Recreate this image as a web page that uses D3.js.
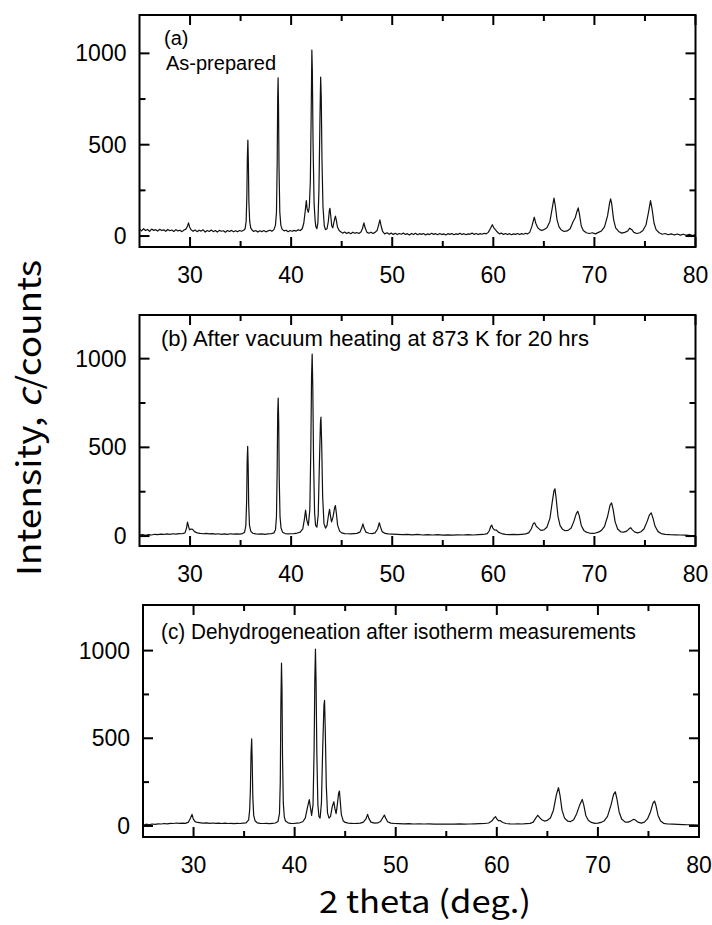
<!DOCTYPE html>
<html lang="en">
<head>
    <meta charset="UTF-8">
    <title>XRD patterns</title>
    <script src="https://d3js.org/d3.v7.min.js"></script>
    <style>
        body { margin: 0; background: #fff; }
        svg { display: block; }
    </style>
</head>
<body>
    <div id="chart"></div>

    <script>

        // tick values -----------------------------------------------------
        const xTicks = [30, 40, 50, 60, 70, 80];
        const xMinor = [35, 45, 55, 65, 75];
        const yTicks = [0, 500, 1000];
        const yMinor = [250, 750];

        const labelsA = ["(a)", "As-prepared"];
        const labelB = "(b) After vacuum heating at 873 K for 20 hrs";
        const labelC = "(c) Dehydrogeneation after isotherm measurements";

        // patterns: [2 theta, counts] --------------------------------------
        const patternA = [
            [25.0,38],[25.2,28],[25.4,40],[25.6,30],[25.8,36],[26.0,26],[26.2,38],[26.4,31],[26.6,35],[26.8,27],
            [27.0,37],[27.2,30],[27.4,34],[27.6,26],[27.8,36],[28.0,29],[28.2,33],[28.4,25],[28.6,35],[28.8,28],
            [29.0,32],[29.2,24],[29.4,33],[29.6,38],[29.75,55],[29.85,72],[29.95,50],[30.1,34],[30.3,26],[30.5,33],
            [30.7,24],[30.9,32],[31.1,27],[31.3,34],[31.5,22],[31.7,30],[31.9,25],[32.1,33],[32.3,24],[32.5,30],
            [32.7,22],[32.9,31],[33.1,26],[33.3,29],[33.5,21],[33.7,30],[33.9,25],[34.1,31],[34.3,23],[34.5,29],
            [34.7,24],[34.9,30],[35.1,26],[35.3,32],[35.45,40],[35.55,80],[35.62,220],[35.67,430],[35.72,525],[35.77,400],
            [35.82,190],[35.9,80],[36.0,45],[36.15,32],[36.3,25],[36.5,30],[36.7,22],[36.9,29],[37.1,24],[37.3,30],
            [37.5,23],[37.7,28],[37.9,32],[38.1,26],[38.3,35],[38.45,60],[38.55,130],[38.62,400],[38.67,760],[38.71,866],
            [38.75,720],[38.8,380],[38.88,130],[38.98,60],[39.1,38],[39.3,28],[39.5,32],[39.7,24],[39.9,30],[40.1,26],
            [40.3,31],[40.5,27],[40.7,34],[40.9,30],[41.1,40],[41.25,70],[41.4,140],[41.5,194],[41.58,150],[41.7,130],
            [41.8,160],[41.9,300],[41.98,650],[42.05,1018],[42.1,900],[42.17,500],[42.27,180],[42.38,80],[42.45,50],[42.55,40],
            [42.65,75],[42.75,250],[42.85,640],[42.92,870],[42.98,760],[43.05,420],[43.15,160],[43.28,55],[43.4,35],[43.55,40],
            [43.68,80],[43.78,140],[43.84,152],[43.92,110],[44.02,55],[44.12,45],[44.25,80],[44.38,109],[44.46,90],[44.58,50],
            [44.75,30],[44.9,24],[45.1,16],[45.3,22],[45.5,14],[45.7,20],[45.9,13],[46.1,21],[46.3,15],[46.5,19],
            [46.7,14],[46.9,22],[47.05,40],[47.2,72],[47.32,45],[47.5,20],[47.7,15],[47.9,21],[48.1,14],[48.3,20],
            [48.5,30],[48.65,60],[48.78,89],[48.9,55],[49.05,25],[49.25,12],[49.5,18],[49.7,10],[49.9,16],[50.1,9],
            [50.3,15],[50.5,8],[50.7,14],[50.9,10],[51.1,16],[51.3,9],[51.5,13],[51.7,6],[51.9,14],[52.1,8],
            [52.3,15],[52.5,7],[52.7,13],[52.9,9],[53.1,14],[53.3,6],[53.5,12],[53.7,8],[53.9,15],[54.1,9],
            [54.3,13],[54.5,7],[54.7,14],[54.9,8],[55.1,12],[55.3,6],[55.5,13],[55.7,9],[55.9,14],[56.1,7],
            [56.3,12],[56.5,9],[56.7,15],[56.9,8],[57.1,13],[57.3,7],[57.5,12],[57.7,10],[57.9,16],[58.1,9],
            [58.3,14],[58.5,8],[58.7,13],[58.9,10],[59.1,15],[59.3,12],[59.5,20],[59.7,40],[59.9,62],[60.05,45],
            [60.2,35],[60.4,22],[60.6,12],[60.8,16],[61.0,9],[61.2,14],[61.4,8],[61.6,13],[61.8,7],[62.0,12],
            [62.2,9],[62.4,14],[62.6,8],[62.8,13],[63.0,10],[63.2,15],[63.4,12],[63.6,20],[63.8,50],[64.05,103],
            [64.2,70],[64.4,45],[64.6,35],[64.8,30],[65.0,35],[65.3,45],[65.6,80],[65.85,160],[66.0,208],[66.12,170],
            [66.3,90],[66.5,50],[66.7,35],[67.0,25],[67.3,28],[67.6,40],[67.9,80],[68.1,100],[68.25,130],[68.4,154],
            [68.52,120],[68.7,55],[68.9,30],[69.2,18],[69.5,14],[69.8,18],[70.1,12],[70.4,20],[70.7,28],[71.0,50],
            [71.3,110],[71.5,180],[71.6,203],[71.7,180],[71.9,90],[72.1,45],[72.4,25],[72.7,16],[73.0,20],[73.3,28],
            [73.5,43],[73.7,35],[73.9,20],[74.2,14],[74.5,18],[74.8,30],[75.1,60],[75.35,130],[75.55,194],[75.7,150],
            [75.9,70],[76.1,35],[76.4,18],[76.7,10],[77.0,14],[77.3,7],[77.6,12],[77.9,6],[78.2,11],[78.5,5],
            [78.8,10],[79.1,4],[79.4,9],[79.7,3],[80.0,8]
        ];

        const patternB = [
            [25.0,5],[25.3,9],[25.6,4],[25.9,8],[26.2,6],[26.5,10],[26.8,8],[27.1,11],[27.4,9],[27.7,12],
            [28.0,10],[28.3,13],[28.6,11],[28.9,14],[29.2,13],[29.5,18],[29.65,45],[29.75,79],[29.85,55],[29.95,35],
            [30.1,40],[30.25,38],[30.45,25],[30.7,18],[31.0,15],[31.3,13],[31.6,15],[31.9,12],[32.2,14],[32.5,11],
            [32.8,13],[33.1,10],[33.4,12],[33.7,10],[34.0,13],[34.3,11],[34.6,12],[34.9,11],[35.2,14],[35.4,22],
            [35.52,60],[35.6,200],[35.65,420],[35.7,506],[35.75,400],[35.8,180],[35.88,60],[36.0,28],[36.2,16],[36.5,12],
            [36.8,11],[37.1,12],[37.4,10],[37.7,12],[38.0,13],[38.3,18],[38.45,35],[38.55,110],[38.62,380],[38.67,690],
            [38.72,777],[38.77,640],[38.82,330],[38.9,110],[39.0,45],[39.15,22],[39.4,14],[39.7,12],[40.0,13],[40.3,14],
            [40.6,17],[40.9,22],[41.15,40],[41.3,90],[41.43,146],[41.55,90],[41.7,60],[41.85,150],[41.95,500],[42.02,900],
            [42.08,1026],[42.14,850],[42.22,420],[42.32,130],[42.42,60],[42.55,50],[42.68,120],[42.8,420],[42.9,640],[42.95,670],
            [43.02,520],[43.12,220],[43.25,70],[43.4,45],[43.55,60],[43.7,120],[43.8,150],[43.9,110],[44.0,80],[44.15,110],
            [44.3,160],[44.38,172],[44.47,130],[44.6,60],[44.8,28],[45.0,18],[45.3,14],[45.6,13],[45.9,12],[46.2,14],
            [46.5,15],[46.8,22],[46.98,45],[47.1,69],[47.22,45],[47.4,22],[47.7,16],[48.0,14],[48.3,18],[48.55,40],
            [48.72,75],[48.85,50],[49.0,25],[49.3,15],[49.6,12],[50.0,11],[50.5,10],[51.0,8],[51.5,9],[52.0,7],
            [52.5,9],[53.0,6],[53.5,8],[54.0,6],[54.5,8],[55.0,5],[55.5,7],[56.0,5],[56.5,7],[57.0,6],
            [57.5,8],[58.0,6],[58.5,8],[59.0,9],[59.4,14],[59.6,30],[59.75,55],[59.84,62],[59.95,45],[60.1,35],
            [60.3,34],[60.5,22],[60.8,14],[61.2,10],[61.6,8],[62.0,9],[62.4,8],[62.8,10],[63.2,12],[63.5,18],
            [63.75,40],[63.95,70],[64.08,75],[64.25,55],[64.45,45],[64.7,32],[65.0,35],[65.3,50],[65.6,100],[65.85,200],
            [66.0,255],[66.1,266],[66.2,220],[66.4,110],[66.6,60],[66.85,38],[67.1,30],[67.4,32],[67.7,45],[67.95,80],
            [68.2,125],[68.35,140],[68.5,115],[68.7,60],[68.95,32],[69.2,22],[69.5,17],[69.8,15],[70.1,17],[70.4,22],
            [70.7,32],[71.0,55],[71.3,110],[71.55,175],[71.7,187],[71.85,150],[72.05,80],[72.3,40],[72.6,24],[72.9,22],
            [73.2,28],[73.45,42],[73.6,47],[73.75,35],[74.0,22],[74.3,18],[74.6,24],[74.9,40],[75.2,80],[75.45,120],
            [75.62,131],[75.8,100],[76.0,55],[76.3,25],[76.6,14],[77.0,10],[77.5,8],[78.0,7],[78.5,6],[79.0,5],
            [79.5,3],[80.0,2]
        ];

        const patternC = [
            [25.0,4],[25.3,10],[25.6,6],[25.9,11],[26.2,9],[26.5,12],[26.8,11],[27.1,14],[27.4,12],[27.7,15],
            [28.0,14],[28.3,17],[28.6,15],[28.9,16],[29.2,15],[29.5,22],[29.7,45],[29.85,66],[29.97,40],[30.15,25],
            [30.4,20],[30.7,18],[31.0,16],[31.3,18],[31.6,15],[31.9,17],[32.2,15],[32.5,16],[32.8,14],[33.1,16],
            [33.4,14],[33.7,15],[34.0,13],[34.3,15],[34.6,14],[34.9,16],[35.2,18],[35.45,35],[35.55,90],[35.62,200],
            [35.69,420],[35.75,496],[35.8,380],[35.86,170],[35.95,60],[36.08,30],[36.3,18],[36.6,15],[36.9,14],[37.2,15],
            [37.5,13],[37.8,15],[38.1,17],[38.35,25],[38.5,70],[38.58,250],[38.64,700],[38.7,928],[38.75,780],[38.8,400],
            [38.88,130],[38.98,50],[39.1,28],[39.35,18],[39.6,15],[39.9,14],[40.2,16],[40.5,18],[40.8,24],[41.05,45],
            [41.25,100],[41.45,150],[41.55,110],[41.68,60],[41.82,120],[41.93,450],[42.0,850],[42.06,1008],[42.12,820],[42.2,400],
            [42.3,120],[42.4,55],[42.52,45],[42.65,130],[42.78,450],[42.9,690],[42.96,716],[43.03,550],[43.13,230],[43.25,75],
            [43.4,45],[43.55,55],[43.72,110],[43.88,138],[43.98,100],[44.1,70],[44.22,120],[44.35,185],[44.43,199],[44.5,150],
            [44.62,65],[44.8,30],[45.0,20],[45.3,16],[45.6,15],[45.9,14],[46.2,15],[46.5,16],[46.8,22],[47.05,40],
            [47.22,66],[47.35,42],[47.55,22],[47.9,16],[48.2,17],[48.5,25],[48.7,45],[48.88,62],[49.0,45],[49.2,24],
            [49.5,16],[49.9,14],[50.3,13],[50.8,12],[51.3,13],[51.8,11],[52.3,12],[52.8,11],[53.3,12],[53.8,10],
            [54.3,11],[54.8,10],[55.3,11],[55.8,10],[56.3,12],[56.8,10],[57.3,11],[57.8,12],[58.3,13],[58.8,14],
            [59.2,17],[59.5,28],[59.72,45],[59.88,53],[60.0,40],[60.15,30],[60.35,30],[60.6,20],[60.9,14],[61.3,12],
            [61.7,11],[62.1,12],[62.5,11],[62.9,13],[63.3,15],[63.6,22],[63.85,45],[64.05,61],[64.2,50],[64.45,35],
            [64.7,28],[65.0,32],[65.3,45],[65.6,90],[65.9,180],[66.1,218],[66.25,175],[66.45,90],[66.7,45],[67.0,28],
            [67.3,25],[67.6,35],[67.9,70],[68.2,120],[68.45,151],[68.6,120],[68.8,60],[69.05,32],[69.35,20],[69.7,15],
            [70.0,16],[70.3,20],[70.6,28],[70.95,55],[71.3,120],[71.55,180],[71.72,195],[71.88,155],[72.1,80],[72.35,40],
            [72.7,22],[73.0,22],[73.3,30],[73.55,38],[73.7,34],[73.95,22],[74.3,16],[74.6,22],[74.9,40],[75.2,80],
            [75.45,130],[75.6,142],[75.75,115],[75.95,60],[76.2,28],[76.5,15],[76.9,11],[77.4,10],[77.9,9],[78.4,8],
            [78.9,7],[79.4,6],[80.0,5]
        ];

        // svg ---------------------------------------------------------------
        const width = 712, height = 925;
        const svg = d3.select("#chart").append("svg")
            .attr("width", width)
            .attr("height", height)
            .style("background", "white");

        const numFont = "Liberation Sans, Arial, Helvetica, sans-serif";
        const jpFont = "Noto Sans CJK JP, sans-serif";

        // one panel = frame + ticks + trace
        function drawPanel(pattern, box) {
            const x = d3.scaleLinear().domain([25, 80]).range([box.left, box.right]);
            const y = d3.scaleLinear().domain(box.yDomain).range([box.bottom, box.top]);
            const g = svg.append("g");

            // trace
            const line = d3.line().x(d => x(d[0])).y(d => y(d[1]));
            g.append("path")
                .datum(pattern)
                .attr("d", line)
                .attr("fill", "none")
                .attr("stroke", "#111")
                .attr("stroke-width", 1.2)
                .attr("stroke-linejoin", "round");

            // ticks, all pointing inward
            const major = 10, minor = 6;
            xTicks.concat(xMinor).forEach(v => {
                const len = xTicks.includes(v) ? major : minor;
                [[box.bottom, -len], [box.top, len]].forEach(([y0, dy]) => {
                    g.append("line")
                        .attr("x1", x(v)).attr("x2", x(v))
                        .attr("y1", y0).attr("y2", y0 + dy)
                        .attr("stroke", "black").attr("stroke-width", 2);
                });
            });
            yTicks.concat(yMinor).forEach(v => {
                const len = yTicks.includes(v) ? major : minor;
                [[box.left, len], [box.right, -len]].forEach(([x0, dx]) => {
                    g.append("line")
                        .attr("x1", x0).attr("x2", x0 + dx)
                        .attr("y1", y(v)).attr("y2", y(v))
                        .attr("stroke", "black").attr("stroke-width", 2);
                });
            });

            // frame
            g.append("rect")
                .attr("x", box.left).attr("y", box.top)
                .attr("width", box.right - box.left)
                .attr("height", box.bottom - box.top)
                .attr("fill", "none")
                .attr("stroke", "black")
                .attr("stroke-width", 2);

            // tick labels
            g.selectAll(".xl").data(xTicks).join("text")
                .attr("x", d => x(d))
                .attr("y", box.bottom + 36)
                .attr("text-anchor", "middle")
                .style("font-family", numFont)
                .style("font-size", "23px")
                .text(d => d);
            g.selectAll(".yl").data(yTicks).join("text")
                .attr("x", box.left - 13)
                .attr("y", d => y(d) + 8)
                .attr("text-anchor", "end")
                .style("font-family", numFont)
                .style("font-size", "23px")
                .text(d => d);

            return {x, y, g};
        }

        const pA = drawPanel(patternA, {left: 139.5, right: 695.5, top: 15, bottom: 247, yDomain: [-60, 1210]});
        const pB = drawPanel(patternB, {left: 139.5, right: 695.5, top: 315, bottom: 546, yDomain: [-56, 1246]});
        const pC = drawPanel(patternC, {left: 143, right: 699, top: 605, bottom: 837, yDomain: [-63, 1260]});

        // panel annotations
        pA.g.append("text").attr("x", 164).attr("y", 45)
            .style("font-family", numFont).style("font-size", "20px").text(labelsA[0]);
        pA.g.append("text").attr("x", 166).attr("y", 70)
            .style("font-family", numFont).style("font-size", "20px").text(labelsA[1]);
        pB.g.append("text").attr("x", 161).attr("y", 346)
            .attr("textLength", 428).attr("lengthAdjust", "spacingAndGlyphs")
            .style("font-family", numFont).style("font-size", "22px").text(labelB);
        pC.g.append("text").attr("x", 161).attr("y", 639)
            .attr("textLength", 475).attr("lengthAdjust", "spacingAndGlyphs")
            .style("font-family", numFont).style("font-size", "22px").text(labelC);

        // axis titles
        svg.append("text")
            .attr("x", 425).attr("y", 913)
            .attr("text-anchor", "middle")
            .attr("textLength", 212).attr("lengthAdjust", "spacingAndGlyphs")
            .style("font-family", jpFont)
            .style("font-size", "31px")
            .text("2 theta (deg.)");

        const yTitle = svg.append("text")
            .attr("transform", "translate(41,418) rotate(-90)")
            .attr("text-anchor", "middle")
            .attr("textLength", 316).attr("lengthAdjust", "spacingAndGlyphs")
            .style("font-family", jpFont)
            .style("font-size", "33px");
        yTitle.append("tspan").text("Intensity,  ");
        yTitle.append("tspan").style("font-style", "italic").text("c");
        yTitle.append("tspan").text("/counts");

    </script>
</body>
</html>
